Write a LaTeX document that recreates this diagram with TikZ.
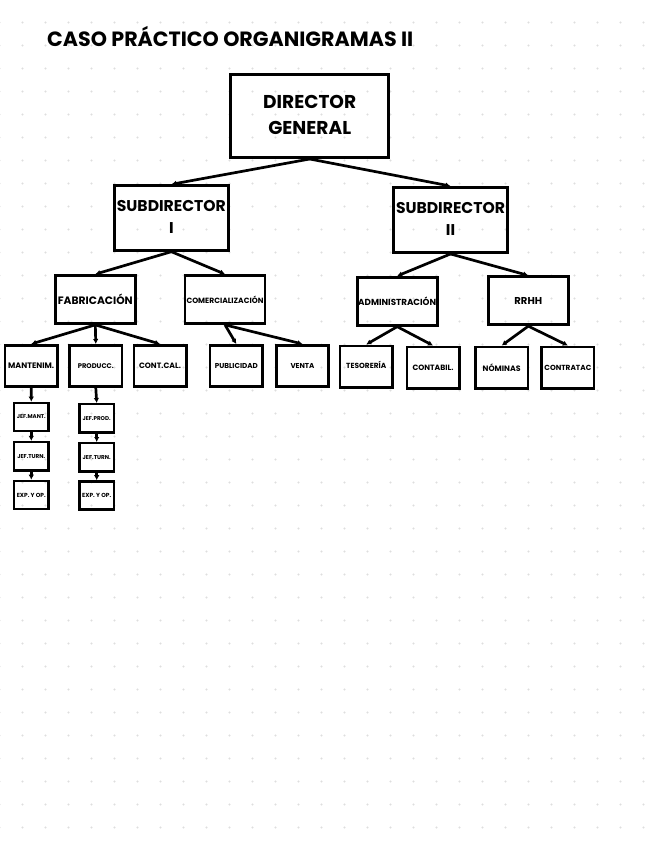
\documentclass[tikz,border=0pt]{standalone}
\usepackage{fontspec}
\setmainfont{Poppins}
\usetikzlibrary{arrows.meta}
\newcommand{\fw}[2]{\resizebox{#1pt}{!}{#2}}
\newcommand{\twol}[2]{{\renewcommand{\arraystretch}{1.18}\begin{tabular}{@{}c@{}}#1\\#2\end{tabular}}}
\begin{document}
\begin{tikzpicture}[x=1pt,y=-1pt,
  dotc/.style={fill=black!13},
  bigbox/.style={draw, line width=2.9pt, rectangle, inner sep=0pt, align=center, font=\bfseries},
  midbox/.style={draw, line width=2.7pt, rectangle, inner sep=0pt, align=center, font=\bfseries, minimum width=80pt, minimum height=48pt},
  lowbox/.style={draw, line width=2.6pt, rectangle, inner sep=0pt, align=center, font=\bfseries, minimum width=52.4pt, minimum height=41.4pt},
  tinybox/.style={draw, line width=2.4pt, rectangle, inner sep=0pt, align=center, font=\bfseries, minimum width=34.5pt, minimum height=28.2pt},
  conn/.style={line width=2.7pt, -{Latex[length=5pt,width=5.5pt]}}]
\fill[white] (0,0) rectangle (656,848);
\useasboundingbox (0,0) rectangle (656,848);
% dotted background grid
\foreach \i in {0,...,28}{
  \foreach \j in {0,...,35}{
    \fill[dotc] (-0.5+23*\i, 22.5+23*\j) circle (1.1pt);
  }
}
% title
\node[anchor=base west, inner sep=0pt, font=\bfseries] (title) at (47,46.7) {\fw{366}{CASO PRÁCTICO ORGANIGRAMAS II}};
% level 1
\node[bigbox, minimum width=157.7pt, minimum height=83.3pt] (dg) at (309.7,115.9) {\fw{93}{\twol{DIRECTOR}{GENERAL}}};
% level 2
\node[bigbox, minimum width=114.5pt, minimum height=64.5pt] (s1) at (171.4,218) {\fw{109}{\twol{SUBDIRECTOR}{I}}};
\node[bigbox, minimum width=114.5pt, minimum height=65pt] (s2) at (450.5,220) {\fw{109}{\twol{SUBDIRECTOR}{II}}};
% level 3
\node[midbox] (fab) at (95.3,299.5) {\fw{75}{FABRICACIÓN}};
\node[midbox] (com) at (225,299.5) {\fw{77}{COMERCIALIZACIÓN}};
\node[midbox] (adm) at (397.2,301.3) {\fw{78}{ADMINISTRACIÓN}};
\node[midbox, font=\bfseries\fontsize{10}{12}\selectfont] (rrhh) at (528.3,300.8) {RRHH};
% level 4
\node[lowbox] (man) at (31.2,366) {\fw{46}{MANTENIM.}};
\node[lowbox] (prod) at (95.8,366) {\fw{36}{PRODUCC.}};
\node[lowbox] (cc) at (160,366) {\fw{42}{CONT.CAL.}};
\node[lowbox] (pub) at (236.3,366) {\fw{43}{PUBLICIDAD}};
\node[lowbox] (ven) at (302.5,366) {\fw{24}{VENTA}};
\node[lowbox] (tes) at (366.2,366.5) {\raisebox{3pt}{\fw{40}{TESORERÍA}}};
\node[lowbox] (ctb) at (433,367.5) {\fw{41}{CONTABIL.}};
\node[lowbox] (nom) at (501.7,367.5) {\fw{38}{NÓMINAS}};
\node[lowbox] (ctr) at (567.9,367.5) {\fw{47}{CONTRATAC}};
% level 5
\node[tinybox] (jm) at (31.3,417) {\fw{29}{JEF.MANT.}};
\node[tinybox] (jt1) at (31.3,456.2) {\fw{28}{JEF.TURN.}};
\node[tinybox] (ex1) at (31.3,495) {\fw{29}{EXP. Y OP.}};
\node[tinybox] (jp) at (96.7,418.3) {\fw{28}{JEF.PROD.}};
\node[tinybox] (jt2) at (96.7,457.3) {\fw{28}{JEF.TURN.}};
\node[tinybox] (ex2) at (96.7,495.5) {\fw{29}{EXP. Y OP.}};
% connectors
\draw[conn] (dg.south) -- (s1.north);
\draw[conn] (dg.south) -- (s2.north);
\draw[conn] (s1.south) -- (fab.north);
\draw[conn] (s1.south) -- (com.north);
\draw[conn] (s2.south) -- (adm.north);
\draw[conn] (s2.south) -- (rrhh.north);
\draw[conn] (fab.south) -- (man.north);
\draw[conn] (fab.south) -- (prod.north);
\draw[conn] (fab.south) -- (cc.north);
\draw[conn] (com.south) -- (pub.north);
\draw[conn] (com.south) -- (ven.north);
\draw[conn] (adm.south) -- (tes.north);
\draw[conn] (adm.south) -- (ctb.north);
\draw[conn] (rrhh.south) -- (nom.north);
\draw[conn] (rrhh.south) -- (ctr.north);
\draw[conn] (man.south) -- (jm.north);
\draw[conn] (jm.south) -- (jt1.north);
\draw[conn] (jt1.south) -- (ex1.north);
\draw[conn] (prod.south) -- (jp.north);
\draw[conn] (jp.south) -- (jt2.north);
\draw[conn] (jt2.south) -- (ex2.north);
\end{tikzpicture}
\end{document}
